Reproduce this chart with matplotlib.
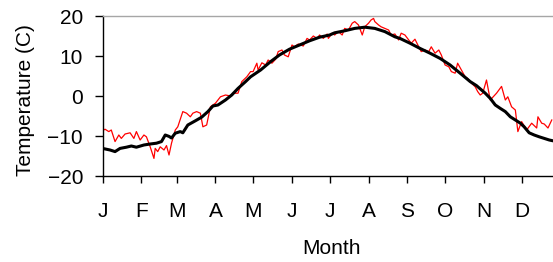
import matplotlib
matplotlib.use("Agg")
import matplotlib.pyplot as plt

plt.rcParams['font.family'] = ['Liberation Sans', 'DejaVu Sans']

months = ['J', 'F', 'M', 'A', 'M', 'J', 'J', 'A', 'S', 'O', 'N', 'D']
month_start_days = [0, 31, 59, 90, 120, 151, 181, 212, 243, 273, 304, 334]

black_days = [0, 6, 10, 14, 19, 23, 27, 33, 38, 43, 47, 50, 53, 55, 58, 62, 64, 68, 74, 79,
              84, 88, 92, 98, 103, 108, 114, 118, 126, 134, 141, 149, 157, 165, 173, 181,
              185, 193, 201, 209, 217, 225, 233, 237, 245, 253, 261, 269, 277, 285, 293,
              298, 305, 309, 313, 317, 321, 325, 329, 333, 336, 340, 344, 348, 352, 356, 359]
black_temp = [-13.1, -13.5, -13.9, -13.1, -12.8, -12.5, -12.8, -12.25, -12.0, -11.8, -11.4,
              -9.75, -10.1, -10.5, -9.3, -8.9, -9.2, -7.25, -6.2, -5.3, -3.9, -2.5, -2.25,
              -1.0, 0.25, 1.9, 3.6, 4.8, 6.5, 8.6, 10.25, 11.7, 12.75, 13.8, 14.7, 15.25,
              15.8, 16.3, 16.9, 17.2, 16.9, 16.1, 14.8, 14.4, 13.2, 11.9, 10.7, 9.4, 7.75,
              5.7, 3.6, 2.6, 0.7, -0.6, -2.25, -3.1, -3.9, -5.2, -6.0, -6.8, -7.7, -9.2,
              -9.75, -10.2, -10.6, -11.0, -11.2]

red_days = [0, 2, 5, 7, 10, 13, 15, 18, 22, 25, 27, 30, 33, 35, 38, 41, 42, 44, 46, 49,
            51, 53, 55, 58, 60, 64, 67, 70, 72, 75, 78, 80, 83, 86, 90, 94, 98, 102, 104,
            108, 111, 115, 118, 120, 123, 124, 127, 130, 132, 135, 138, 140, 143, 145, 148,
            151, 153, 156, 160, 163, 165, 168, 171, 173, 176, 179, 180, 183, 185, 188, 191,
            193, 196, 199, 201, 204, 207, 209, 212, 214, 216, 217, 220, 222, 225, 228, 230,
            233, 236, 238, 241, 244, 246, 249, 252, 254, 257, 260, 262, 265, 268, 270, 273,
            276, 278, 281, 283, 286, 289, 291, 294, 297, 299, 301, 303, 306, 309, 314, 318,
            321, 323, 326, 329, 331, 334, 338, 342, 346, 347, 350, 352, 355, 358]
red_temp = [-8.7, -8.3, -8.9, -8.5, -11.4, -9.75, -10.6, -9.5, -9.2, -10.6, -8.9, -11.0,
            -9.75, -10.2, -12.7, -15.6, -13.1, -13.9, -12.7, -13.5, -12.4, -14.75, -11.8,
            -8.5, -7.7, -3.9, -4.3, -5.2, -4.3, -3.9, -4.3, -7.7, -7.25, -2.7, -1.8, -0.2,
            0.25, 0.0, 0.7, 0.7, 3.6, 4.8, 6.1, 6.1, 8.2, 6.5, 8.3, 7.75, 9.0, 8.2, 9.2,
            11.1, 11.5, 10.25, 9.8, 12.75, 12.3, 13.0, 12.5, 14.4, 14.0, 15.0, 14.4, 15.25,
            14.4, 15.5, 14.4, 15.7, 15.25, 16.1, 15.25, 16.9, 16.5, 18.2, 18.6, 17.75, 15.25,
            17.3, 18.2, 19.0, 19.4, 18.6, 17.75, 17.3, 16.9, 16.5, 15.25, 15.5, 14.0, 15.7,
            15.25, 14.0, 13.2, 14.2, 12.3, 11.1, 11.5, 11.1, 12.3, 10.7, 11.5, 10.25, 7.75,
            7.3, 6.1, 5.7, 8.2, 6.5, 4.8, 4.4, 3.2, 2.3, 1.1, 0.25, 0.7, 4.0, -1.0, 0.7, 2.4,
            -1.0, -0.2, -2.7, -3.5, -8.9, -6.4, -8.5, -6.8, -8.0, -5.2, -6.8, -7.0, -8.0, -6.0]

y_ticks = [-20, -10, 0, 10, 20]

fig = plt.figure(figsize=(5.53, 2.62), dpi=100)
ax = fig.add_axes([102.5 / 553, 1 - 176 / 262, 1 - 102.5 / 553, 160 / 262])

ax.plot(red_days, red_temp, color='#ff0000', linewidth=0.9, zorder=2)
ax.plot(black_days, black_temp, color='black', linewidth=2.2, zorder=3)

ax.set_xlim(0, 359)
ax.set_ylim(-20, 20)
ax.set_yticks(y_ticks)
ax.set_xticks(month_start_days)
ax.set_xticklabels(months)

ax.spines['right'].set_visible(False)
ax.spines['top'].set_color('#a6a6a6')
ax.spines['top'].set_linewidth(1.0)
ax.spines['left'].set_linewidth(1.0)
ax.spines['bottom'].set_linewidth(1.0)

ax.tick_params(axis='y', direction='out', length=6, width=1.0, labelsize=15, pad=8)
ax.tick_params(axis='x', direction='out', length=5, width=1.0, labelsize=15, pad=14)

ax.set_ylabel('Temperature (C)', fontsize=15)
ax.yaxis.set_label_coords(26 / 553, 1 - 100 / 262, transform=fig.transFigure)
ax.yaxis.label.set_va('center')
ax.set_xlabel('Month', fontsize=15)
ax.xaxis.set_label_coords(331 / 553, 1 - 248 / 262, transform=fig.transFigure)
ax.xaxis.label.set_va('center')

fig.savefig('out.png', dpi=100)
